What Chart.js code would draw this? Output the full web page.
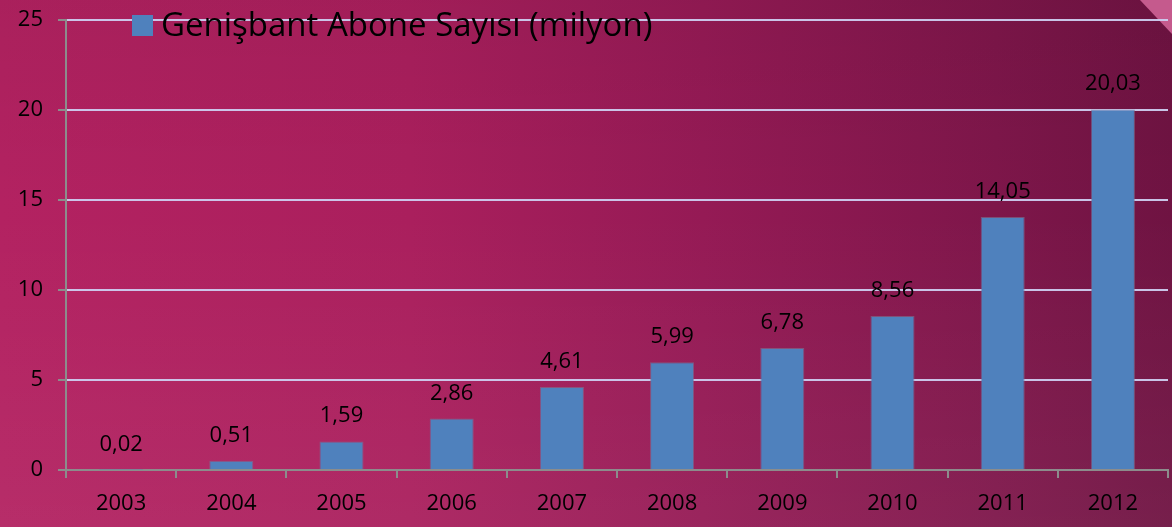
<!DOCTYPE html>
<html>
<head>
<meta charset="utf-8">
<script src="https://cdn.jsdelivr.net/npm/chart.js@4/dist/chart.umd.min.js"></script>
<style>
  html, body { margin:0; padding:0; width:1172px; height:527px; overflow:hidden; }
  body {
    background: linear-gradient(90deg, #b32261 0%, #aa1f5d 35%, #951a55 60%, #7e164a 85%, #6f1342 100%);
    position: relative;
  }
  .shade {
    position:absolute; left:0; top:0; width:1172px; height:527px;
    background: linear-gradient(180deg, rgba(0,0,0,0.05) 0%, rgba(0,0,0,0) 40%, rgba(255,255,255,0.05) 100%);
  }
  .curl {
    position:absolute; right:0; top:0; width:0; height:0;
    border-top: 34px solid #c55a8d;
    border-left: 32px solid transparent;
  }
  #wrap { position:absolute; left:0; top:0; width:1172px; height:527px; }
</style>
</head>
<body>
<div class="shade"></div>
<div class="curl"></div>
<div id="wrap"><canvas id="c" width="1172" height="527"></canvas></div>
<script>
const years = ['2003','2004','2005','2006','2007','2008','2009','2010','2011','2012'];
const subscribers = [0.02, 0.51, 1.59, 2.86, 4.61, 5.99, 6.78, 8.56, 14.05, 20.03];
const valueLabels = ['0,02','0,51','1,59','2,86','4,61','5,99','6,78','8,56','14,05','20,03'];
const seriesName = 'Genişbant Abone Sayısı (milyon)';
const yTicks = [0, 5, 10, 15, 20, 25];

const FONT = '"Open Sans", "Liberation Sans", sans-serif';

const labelPlugin = {
  id: 'valueLabels',
  afterDatasetsDraw(chart) {
    const ctx = chart.ctx;
    const meta = chart.getDatasetMeta(0);
    ctx.save();
    ctx.font = '22px ' + FONT;
    ctx.fillStyle = '#000';
    ctx.textAlign = 'center';
    ctx.textBaseline = 'alphabetic';
    meta.data.forEach((bar, i) => {
      ctx.fillText(valueLabels[i], bar.x, bar.y - 19);
    });
    ctx.restore();
  }
};

const legendPlugin = {
  id: 'innerLegend',
  afterDraw(chart) {
    const ctx = chart.ctx;
    ctx.save();
    ctx.fillStyle = '#4f81bd';
    ctx.fillRect(132, 15, 21, 21);
    ctx.font = '33px ' + FONT;
    ctx.fillStyle = '#000';
    ctx.textAlign = 'left';
    ctx.textBaseline = 'middle';
    ctx.fillText(seriesName, 161, 27);
    ctx.restore();
  }
};

new Chart(document.getElementById('c'), {
  type: 'bar',
  data: {
    labels: years,
    datasets: [{
      label: seriesName,
      data: subscribers,
      backgroundColor: '#4f81bd',
      borderColor: 'rgba(120,120,150,0.6)',
      borderWidth: 1,
      categoryPercentage: 0.8,
      barPercentage: 0.5
    }]
  },
  options: {
    responsive: false,
    animation: false,
    layout: { padding: { left: 0, right: 4, top: 20, bottom: 0 } },
    plugins: { legend: { display: false }, tooltip: { enabled: false } },
    scales: {
      x: {
        afterFit(s) { s.height = 57; },
        grid: { display: true, drawOnChartArea: false, drawTicks: true, tickLength: 8, color: '#8c8c8c', lineWidth: 2, offset: true },
        border: { display: true, color: '#8c8c8c', width: 2 },
        ticks: { color: '#000', font: { size: 22, family: FONT }, padding: 13 }
      },
      y: {
        min: 0, max: 25,
        afterFit(s) { s.width = 66; },
        afterBuildTicks(s) { s.ticks = yTicks.map(v => ({ value: v })); },
        grid: {
          color: (c) => c.tick && c.tick.value === 0 ? '#8c8c8c' : 'rgba(205,205,240,0.95)',
          tickColor: '#8c8c8c',
          lineWidth: 2,
          tickLength: 8
        },
        border: { display: true, color: '#8c8c8c', width: 2 },
        ticks: { color: '#000', font: { size: 22, family: FONT, lineHeight: 0.3 }, padding: 15 }
      }
    }
  },
  plugins: [labelPlugin, legendPlugin]
});
</script>
</body>
</html>
